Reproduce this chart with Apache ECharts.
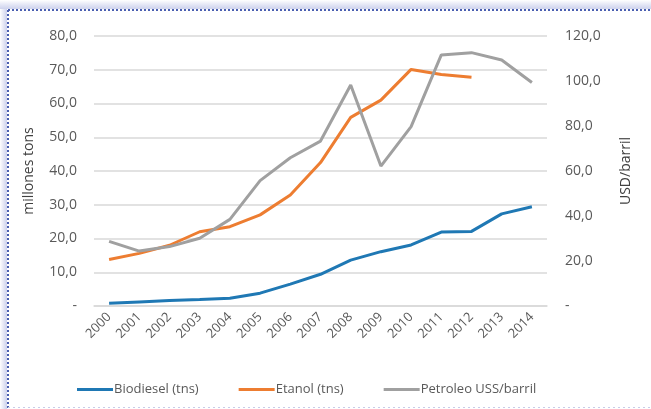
<!DOCTYPE html>
<html>
<head>
<meta charset="utf-8">
<script src="https://cdn.jsdelivr.net/npm/echarts@6/dist/echarts.min.js"></script>
<style>
  html, body { margin: 0; padding: 0; background: #fff; }
  #chart { width: 651px; height: 409px; }
</style>
</head>
<body>
<div id="chart"></div>
<script>
// Production of biofuels (millions of tons) and oil price (USD/barrel), 2000-2014
const years = ['2000','2001','2002','2003','2004','2005','2006','2007','2008','2009','2010','2011','2012','2013','2014'];
const biodiesel = [0.8, 1.2, 1.6, 1.9, 2.3, 3.8, 6.5, 9.4, 13.6, 16.1, 18.1, 21.9, 22.1, 27.3, 29.4];
const etanol = [13.8, 15.6, 18.0, 22.0, 23.5, 27.0, 32.9, 42.5, 55.9, 61.0, 70.1, 68.6, 67.8, null, null];
const petroleo = [28.7, 24.4, 26.4, 30.1, 38.5, 55.7, 65.9, 73.3, 98.2, 62.2, 79.7, 111.6, 112.6, 109.3, 99.3];

const seriesNames = ['Biodiesel (tns)', 'Etanol (tns)', 'Petroleo USS/barril'];
const colors = ['#1f78b4', '#ed7d31', '#a0a0a0'];

const textColor = '#595959';
const fontFamily = '"Open Sans", "Noto Sans", sans-serif';

// Excel-style number format: one decimal with a comma, zero shown as a dash
function fmt(v) {
  if (v === 0) return '-';
  return v.toFixed(1).replace('.', ',');
}

const chart = echarts.init(document.getElementById('chart'), null, { renderer: 'canvas' });

chart.setOption({
  animation: false,
  backgroundColor: '#ffffff',
  color: colors,
  textStyle: { fontFamily: fontFamily },
  graphic: [
    // soft frame glow on top and left
    { type: 'rect', shape: { x: 0, y: 0, width: 651, height: 9 },
      style: { fill: new echarts.graphic.LinearGradient(0, 0, 0, 1, [
        { offset: 0, color: 'rgba(255,255,255,1)' },
        { offset: 1, color: 'rgba(200,205,235,0.9)' }]) }, silent: true },
    { type: 'rect', shape: { x: 0, y: 9, width: 7, height: 400 },
      style: { fill: new echarts.graphic.LinearGradient(0, 0, 1, 0, [
        { offset: 0, color: 'rgba(255,255,255,1)' },
        { offset: 1, color: 'rgba(200,205,235,0.9)' }]) }, silent: true },
    // dotted frame
    { type: 'line', shape: { x1: 8, y1: 10, x2: 651, y2: 10 },
      style: { stroke: '#4a5fb0', lineWidth: 2, lineDash: [2, 2] }, silent: true },
    { type: 'line', shape: { x1: 8, y1: 10, x2: 8, y2: 409 },
      style: { stroke: '#4a5fb0', lineWidth: 2, lineDash: [2, 2] }, silent: true },
    { type: 'line', shape: { x1: 8, y1: 407.5, x2: 651, y2: 407.5 },
      style: { stroke: '#c8cde8', lineWidth: 1, lineDash: [2, 3] }, silent: true }
  ],
  grid: { left: 94, right: 104, top: 36, bottom: 103, containLabel: false },
  legend: {
    data: seriesNames,
    top: 378,
    left: 72,
    itemWidth: 36,
    itemHeight: 3,
    itemGap: 40,
    icon: 'rect',
    textStyle: { color: textColor, fontSize: 13, fontFamily: fontFamily, padding: [0, 0, 0, -4] }
  },
  xAxis: {
    type: 'category',
    data: years,
    boundaryGap: true,
    axisLine: { show: true, lineStyle: { color: '#d9d9d9', width: 1.5 } },
    axisTick: { show: false },
    axisLabel: { color: textColor, fontSize: 13, rotate: 45, margin: 9, interval: 0 }
  },
  yAxis: [
    {
      type: 'value',
      min: 0, max: 80, interval: 10,
      name: 'millones tons',
      nameLocation: 'middle',
      nameGap: 58,
      nameRotate: 90,
      nameTextStyle: { color: '#404040', fontSize: 14 },
      axisLine: { show: false },
      axisTick: { show: false },
      axisLabel: { color: textColor, fontSize: 14, margin: 17, formatter: fmt },
      splitLine: { lineStyle: { color: '#d9d9d9', width: 1.5 } }
    },
    {
      type: 'value',
      min: 0, max: 120, interval: 20,
      name: 'USD/barril',
      nameLocation: 'middle',
      nameGap: 72,
      nameRotate: 90,
      nameTextStyle: { color: '#404040', fontSize: 14 },
      axisLine: { show: false },
      axisTick: { show: false },
      axisLabel: { color: textColor, fontSize: 14, margin: 18, formatter: fmt },
      splitLine: { show: false }
    }
  ],
  series: [
    { name: seriesNames[0], type: 'line', data: biodiesel, yAxisIndex: 0,
      symbol: 'none', lineStyle: { width: 3, color: colors[0] } },
    { name: seriesNames[1], type: 'line', data: etanol, yAxisIndex: 0,
      symbol: 'none', lineStyle: { width: 3, color: colors[1] } },
    { name: seriesNames[2], type: 'line', data: petroleo, yAxisIndex: 1,
      symbol: 'none', lineStyle: { width: 3, color: colors[2] } }
  ]
});
</script>
</body>
</html>
